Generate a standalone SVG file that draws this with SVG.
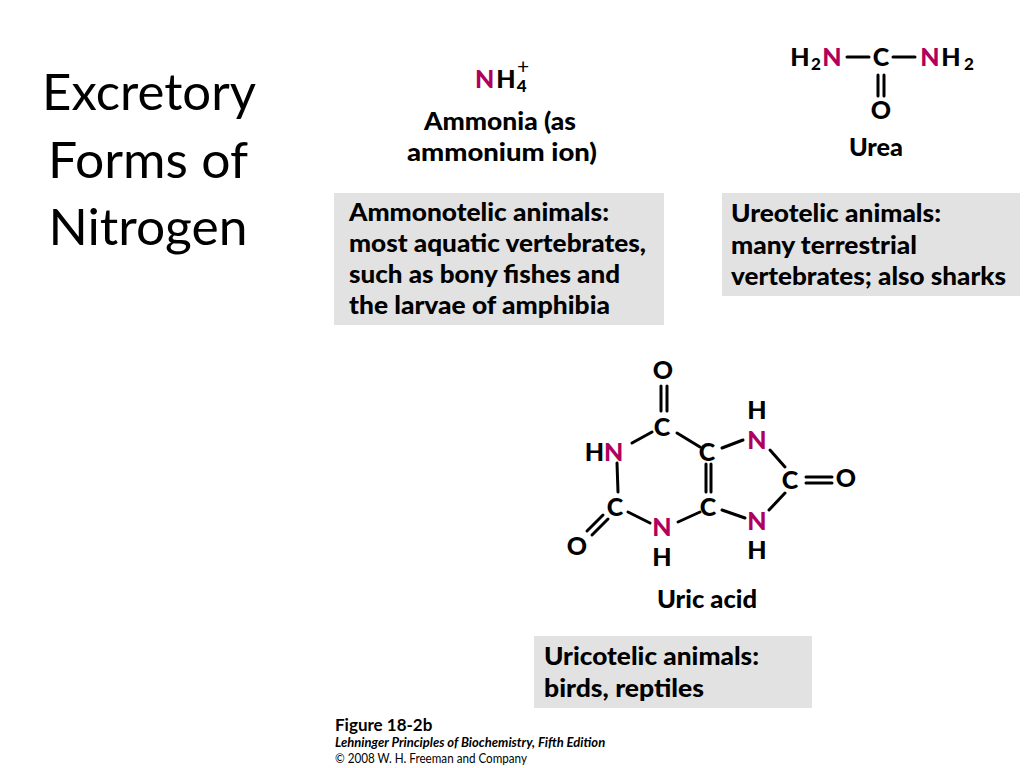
<svg xmlns="http://www.w3.org/2000/svg" width="1024" height="768" viewBox="0 0 1024 768">
<style>
.title{font-family:Lato,"Open Sans",sans-serif;font-size:50px;fill:#000;text-anchor:middle}
.at{font-family:Lato,"Liberation Sans",sans-serif;font-weight:900;font-size:25px;fill:#000;text-anchor:middle}
.n{fill:#B0005E}
.lbl{font-family:Lato,"Liberation Sans",sans-serif;font-weight:900;font-size:25px;fill:#000;text-anchor:middle}
.box{fill:#E2E2E2}
.bt{font-family:Lato,"Liberation Sans",sans-serif;font-weight:900;font-size:25px;fill:#000}
.bond{stroke:#000;stroke-width:3;stroke-linecap:round;fill:none}
.cap{font-family:Lato,"Liberation Sans",sans-serif;fill:#000}
</style>
<rect width="1024" height="768" fill="#fff"/>
<g id="title">
<text class="title" x="149" y="110" textLength="214" lengthAdjust="spacingAndGlyphs">Excretory</text>
<text class="title" x="148" y="178" textLength="200" lengthAdjust="spacingAndGlyphs">Forms of</text>
<text class="title" x="148" y="245" textLength="199" lengthAdjust="spacingAndGlyphs">Nitrogen</text>
</g>
<g id="ammonia">
<text class="at" x="475" y="88" style="text-anchor:start"><tspan class="n">N</tspan><tspan dx="2">H</tspan><tspan style="font-size:17px" dx="1" dy="4">4</tspan></text>
<text class="at" x="523" y="74" style="font-size:21px;font-weight:400">+</text>
<text class="lbl" x="500" y="130" textLength="152" lengthAdjust="spacingAndGlyphs">Ammonia (as</text>
<text class="lbl" x="502" y="161" textLength="190" lengthAdjust="spacingAndGlyphs">ammonium  ion)</text>
</g>
<g id="urea">
<text class="at" x="800" y="66">H</text>
<text class="at" x="816" y="70" style="font-size:17px">2</text>
<text class="at" x="832" y="66"><tspan class="n">N</tspan></text>
<line class="bond" x1="847" y1="57" x2="869" y2="57"/>
<text class="at" x="881" y="66">C</text>
<line class="bond" x1="893" y1="57" x2="915" y2="57"/>
<text class="at" x="930" y="66"><tspan class="n">N</tspan></text>
<text class="at" x="951" y="66">H</text>
<text class="at" x="969" y="70" style="font-size:17px">2</text>
<line class="bond" x1="878" y1="75" x2="878" y2="96"/>
<line class="bond" x1="884" y1="75" x2="884" y2="96"/>
<text class="at" x="881" y="119">O</text>
<text class="lbl" x="876" y="156" textLength="54" lengthAdjust="spacingAndGlyphs">Urea</text>
</g>
<g id="box-ammonotelic">
<rect class="box" x="334" y="193" width="330" height="132"/>
<text class="bt" x="349" y="221" textLength="260" lengthAdjust="spacingAndGlyphs">Ammonotelic animals:</text>
<text class="bt" x="349" y="252" textLength="297" lengthAdjust="spacingAndGlyphs">most aquatic vertebrates,</text>
<text class="bt" x="349" y="283" textLength="271" lengthAdjust="spacingAndGlyphs">such as bony fishes and</text>
<text class="bt" x="349" y="314" textLength="261" lengthAdjust="spacingAndGlyphs">the larvae of amphibia</text>
</g>
<g id="box-ureotelic">
<rect class="box" x="722" y="193" width="298" height="103"/>
<text class="bt" x="731" y="222" textLength="210" lengthAdjust="spacingAndGlyphs">Ureotelic animals:</text>
<text class="bt" x="731" y="254" textLength="186" lengthAdjust="spacingAndGlyphs">many terrestrial</text>
<text class="bt" x="731" y="285" textLength="275" lengthAdjust="spacingAndGlyphs">vertebrates; also sharks</text>
</g>
<g id="uric-acid">
<text class="at" x="663" y="379">O</text>
<line class="bond" x1="661" y1="386" x2="661" y2="411"/>
<line class="bond" x1="667" y1="386" x2="667" y2="411"/>
<text class="at" x="662" y="436">C</text>
<text class="at" x="604" y="461"><tspan>H</tspan><tspan class="n">N</tspan></text>
<text class="at" x="707" y="461">C</text>
<text class="at" x="708" y="516">C</text>
<text class="at" x="757" y="419">H</text>
<text class="at n" x="757" y="449">N</text>
<text class="at" x="790" y="489">C</text>
<text class="at" x="846" y="487">O</text>
<text class="at n" x="757" y="530">N</text>
<text class="at" x="757" y="559">H</text>
<text class="at" x="615" y="516">C</text>
<text class="at" x="577" y="555">O</text>
<text class="at n" x="662" y="536">N</text>
<text class="at" x="662" y="566">H</text>
<line class="bond" x1="632" y1="443" x2="652" y2="432"/>
<line class="bond" x1="677" y1="433" x2="700" y2="447"/>
<line class="bond" x1="617" y1="463" x2="618" y2="492"/>
<line class="bond" x1="628" y1="512" x2="650" y2="523"/>
<line class="bond" x1="678" y1="522" x2="700" y2="512"/>
<line class="bond" x1="706" y1="464" x2="706" y2="492"/>
<line class="bond" x1="711" y1="464" x2="711" y2="492"/>
<line class="bond" x1="722" y1="448" x2="743" y2="440"/>
<line class="bond" x1="770" y1="450" x2="785" y2="467"/>
<line class="bond" x1="785" y1="493" x2="769" y2="510"/>
<line class="bond" x1="722" y1="510" x2="745" y2="518"/>
<line class="bond" x1="806" y1="477" x2="832" y2="477"/>
<line class="bond" x1="806" y1="483" x2="832" y2="483"/>
<line class="bond" x1="603" y1="515" x2="587" y2="531"/>
<line class="bond" x1="608" y1="519" x2="592" y2="535"/>
<text class="lbl" x="707" y="608" textLength="100" lengthAdjust="spacingAndGlyphs">Uric acid</text>
</g>
<g id="box-uricotelic">
<rect class="box" x="534" y="636" width="278" height="72"/>
<text class="bt" x="544" y="665" textLength="215" lengthAdjust="spacingAndGlyphs">Uricotelic animals:</text>
<text class="bt" x="544" y="697" textLength="160" lengthAdjust="spacingAndGlyphs">birds, reptiles</text>
</g>
<g id="caption">
<text class="cap" x="335" y="731" style="font-size:17px;font-weight:700">Figure 18-2b</text>
<text class="cap" x="335" y="747" style="font-size:13px;font-weight:700;font-style:italic">Lehninger Principles of Biochemistry, Fifth Edition</text>
<text class="cap" x="335" y="763" style="font-size:13px" textLength="192" lengthAdjust="spacingAndGlyphs">© 2008 W. H. Freeman and Company</text>
</g>
</svg>
